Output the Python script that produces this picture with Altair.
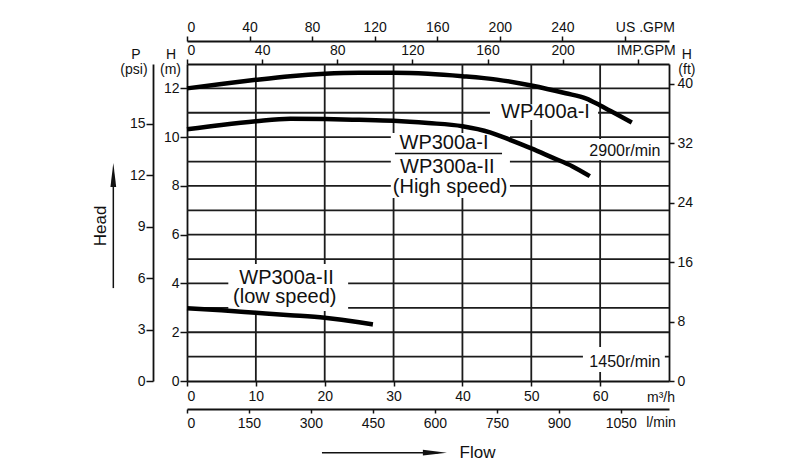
import altair as alt
import pandas as pd

FONT = "Liberation Sans"
INK = "#111111"

# ---- axis ranges (m3/h and m) ----
Q_MAX = 70.0
H_MAX = 13.0
M3H_PER_IMPGPM = 0.2727654
M3H_PER_USGPM = 0.2271247
M_PER_PSI = 0.70307
M_PER_FT = 0.3048

# ---- curve data (flow m3/h, head m) ----
wp400_q = [0, 5, 10, 15, 20, 25, 30, 35, 40, 45, 50, 55, 58, 60, 62, 64.6]
wp400_h = [12.0, 12.18, 12.35, 12.5, 12.6, 12.64, 12.64, 12.6, 12.5, 12.36, 12.12, 11.8, 11.58, 11.3, 11.0, 10.6]
wp300_q = [0, 5, 10, 15, 20, 25, 30, 35, 40, 44, 47, 50, 53, 56, 58.5]
wp300_h = [10.32, 10.5, 10.65, 10.75, 10.74, 10.71, 10.67, 10.58, 10.45, 10.2, 9.88, 9.54, 9.17, 8.8, 8.4]
low_q = [0, 5, 10, 15, 20, 25, 27]
low_h = [2.98, 2.9, 2.8, 2.7, 2.59, 2.41, 2.32]

# ---- grid and ticks ----
h_grid = [1, 2, 3, 4, 5, 6, 7, 8, 9, 10, 11, 12]
q_grid = [10, 20, 30, 40, 50, 60]
m3h_ticks = [0, 10, 20, 30, 40, 50, 60]
hm_ticks = [0, 2, 4, 6, 8, 10, 12]
psi_ticks = [0, 3, 6, 9, 12, 15]
ft_ticks = [0, 8, 16, 24, 32, 40]
lmin_ticks = [0, 150, 300, 450, 600, 750, 900, 1050]
imp_ticks = [0, 40, 80, 120, 160, 200, 240]
us_ticks = [0, 40, 80, 120, 160, 200, 240, 280]

# ---- annotation texts (x in m3/h, y in m at baseline) ----
lab_text = ["WP400a-I", "WP300a-I", "WP300a-II", "(High speed)", "WP300a-II", "(low speed)",
            "2900r/min", "1450r/min", "Flow", "P", "(psi)", "H", "(m)", "H", "(ft)", "m³/h", "l/min"]
lab_x = [52.06, 37.32, 37.8, 38.2, 14.45, 14.2, 63.6, 63.6, 42.2, -7.41, -7.7, -2.32, -2.4, 72.6, 72.6, 68.84, 68.84]
lab_y = [10.77, 9.50, 8.52, 7.72, 3.98, 3.21, 9.23, 0.574, -3.16, 13.19, 12.61, 13.19, 12.61, 13.19, 12.61, -0.85, -1.87]
lab_fs = [20, 20, 20, 20, 20, 20, 16, 16, 17, 14, 14, 14, 14, 14, 14, 14, 14]

# white knock-out boxes behind labels (x0, x1 in m3/h; y0, y1 in m)
box_x0 = [44.0, 29.6, 6.0, 57.8, 57.5]
box_x1 = [59.7, 46.9, 23.4, 69.4, 69.4]
box_y0 = [10.7, 7.5, 2.87, 9.06, 0.37]
box_y1 = [11.35, 10.17, 4.8, 9.92, 1.39]

xs = alt.Scale(domain=[0, Q_MAX], nice=False, zero=False)
ys = alt.Scale(domain=[0, H_MAX], nice=False, zero=False)

curves = pd.DataFrame({
    "q": wp400_q + wp300_q + low_q,
    "h": wp400_h + wp300_h + low_h,
    "s": ["WP400a-I"] * len(wp400_q) + ["WP300a"] * len(wp300_q) + ["low"] * len(low_q),
})

hgrid = alt.Chart(pd.DataFrame({"h": h_grid, "x0": 0.0, "x1": Q_MAX})).mark_rule(
    color="#1c1c1c", strokeWidth=1.8
).encode(
    y=alt.Y("h:Q", scale=ys, axis=None),
    x=alt.X("x0:Q", scale=xs, axis=None),
    x2="x1:Q",
)
vgrid = alt.Chart(pd.DataFrame({"q": q_grid, "y0": 0.0, "y1": H_MAX})).mark_rule(
    color="#1c1c1c", strokeWidth=1.8
).encode(
    x=alt.X("q:Q", scale=xs, axis=None),
    y=alt.Y("y0:Q", scale=ys, axis=None),
    y2="y1:Q",
)
boxes = alt.Chart(pd.DataFrame({"x0": box_x0, "x1": box_x1, "y0": box_y0, "y1": box_y1})).mark_rect(
    color="white"
).encode(
    x=alt.X("x0:Q", scale=xs, axis=None), x2="x1:Q",
    y=alt.Y("y0:Q", scale=ys, axis=None), y2="y1:Q",
)
lines = alt.Chart(curves).mark_line(color="black", strokeWidth=4.5, interpolate="monotone", strokeCap="butt").encode(
    x=alt.X("q:Q", scale=xs, axis=None),
    y=alt.Y("h:Q", scale=ys, axis=None),
    detail="s:N",
)
underline = alt.Chart(pd.DataFrame({"x0": [30.2], "x1": [45.75], "y": [9.33]})).mark_rule(
    color=INK, strokeWidth=1.5
).encode(
    x=alt.X("x0:Q", scale=xs, axis=None), x2="x1:Q",
    y=alt.Y("y:Q", scale=ys, axis=None),
)
texts = alt.Chart(pd.DataFrame({"t": lab_text, "x": lab_x, "y": lab_y, "fs": lab_fs})).mark_text(
    font=FONT, color=INK, align="center", baseline="alphabetic"
).encode(
    x=alt.X("x:Q", scale=xs, axis=None),
    y=alt.Y("y:Q", scale=ys, axis=None),
    text="t:N",
    size=alt.Size("fs:Q", scale=None, legend=None),
)
head_text = alt.Chart(pd.DataFrame({"t": ["Head"], "x": [-12.49], "y": [6.36]})).mark_text(
    font=FONT, color=INK, fontSize=17, angle=270, align="center", baseline="middle"
).encode(
    x=alt.X("x:Q", scale=xs, axis=None),
    y=alt.Y("y:Q", scale=ys, axis=None),
    text="t:N",
)
head_shaft = alt.Chart(pd.DataFrame({"x": [-10.7], "y0": [3.81], "y1": [8.5]})).mark_rule(
    color=INK, strokeWidth=1.5
).encode(
    x=alt.X("x:Q", scale=xs, axis=None),
    y=alt.Y("y0:Q", scale=ys, axis=None), y2="y1:Q",
)
head_tip = alt.Chart(pd.DataFrame({"x": [-10.7], "y": [8.45]})).mark_point(
    shape="M0,-1L0.24,1L-0.24,1Z", filled=True, color=INK, opacity=1, size=576
).encode(
    x=alt.X("x:Q", scale=xs, axis=None),
    y=alt.Y("y:Q", scale=ys, axis=None),
)
flow_shaft = alt.Chart(pd.DataFrame({"x0": [19.6], "x1": [36.5], "y": [-2.94]})).mark_rule(
    color=INK, strokeWidth=1.5
).encode(
    x=alt.X("x0:Q", scale=xs, axis=None), x2="x1:Q",
    y=alt.Y("y:Q", scale=ys, axis=None),
)
flow_tip = alt.Chart(pd.DataFrame({"x": [36.0], "y": [-2.94]})).mark_point(
    shape="M1,0L-1,0.24L-1,-0.24Z", filled=True, color=INK, opacity=1, size=576
).encode(
    x=alt.X("x:Q", scale=xs, axis=None),
    y=alt.Y("y:Q", scale=ys, axis=None),
)

inner = alt.layer(hgrid, vgrid, boxes, lines, underline, texts, head_text, head_shaft, head_tip,
                  flow_shaft, flow_tip)

# main axes (m3/h bottom, H m left)
m3h_axis = alt.Chart(pd.DataFrame({"q": [0.0, Q_MAX]})).mark_point(opacity=0).encode(
    x=alt.X("q:Q", scale=xs, title=None,
            axis=alt.Axis(orient="bottom", values=m3h_ticks, tickSize=5, labelPadding=3, grid=False)),
)
hm_axis = alt.Chart(pd.DataFrame({"h": [0.0, H_MAX]})).mark_point(opacity=0).encode(
    y=alt.Y("h:Q", scale=ys, title=None,
            axis=alt.Axis(orient="left", values=hm_ticks, tickSize=7, labelPadding=1, grid=False)),
)
psi_axis = alt.Chart(pd.DataFrame({"p": [0.0, H_MAX / M_PER_PSI]})).mark_point(opacity=0).encode(
    y=alt.Y("p:Q", scale=alt.Scale(domain=[0, H_MAX / M_PER_PSI], nice=False, zero=False), title=None,
            axis=alt.Axis(orient="left", offset=34, values=psi_ticks, tickSize=7, labelPadding=1, grid=False))
)
ft_axis = alt.Chart(pd.DataFrame({"f": [0.0, H_MAX / M_PER_FT]})).mark_point(opacity=0).encode(
    y=alt.Y("f:Q", scale=alt.Scale(domain=[0, H_MAX / M_PER_FT], nice=False, zero=False), title=None,
            axis=alt.Axis(orient="right", values=ft_ticks, tickSize=5, labelPadding=3, grid=False))
)
lmin_axis = alt.Chart(pd.DataFrame({"l": [0.0, Q_MAX * 1000 / 60]})).mark_point(opacity=0).encode(
    x=alt.X("l:Q", scale=alt.Scale(domain=[0, Q_MAX * 1000 / 60], nice=False, zero=False), title=None,
            axis=alt.Axis(orient="bottom", offset=28, values=lmin_ticks, format="d", tickSize=4,
                          labelPadding=3, grid=False))
)
imp_axis = alt.Chart(pd.DataFrame({"g": [0.0, Q_MAX / M3H_PER_IMPGPM]})).mark_point(opacity=0).encode(
    x=alt.X("g:Q", scale=alt.Scale(domain=[0, Q_MAX / M3H_PER_IMPGPM], nice=False, zero=False), title=None,
            axis=alt.Axis(orient="top", values=imp_ticks, tickSize=5, labelPadding=2, grid=False,
                          labelExpr="datum.value == 240 ? 'IMP.GPM' : datum.label",
                          labelOffset={"condition": {"test": "datum.value == 240", "value": 8}, "value": 0}))
)
us_axis = alt.Chart(pd.DataFrame({"u": [0.0, Q_MAX / M3H_PER_USGPM]})).mark_point(opacity=0).encode(
    x=alt.X("u:Q", scale=alt.Scale(domain=[0, Q_MAX / M3H_PER_USGPM], nice=False, zero=False), title=None,
            axis=alt.Axis(orient="top", offset=23, values=us_ticks, tickSize=5, labelPadding=2, grid=False,
                          labelExpr="datum.value == 280 ? 'US .GPM' : datum.label",
                          labelOffset={"condition": {"test": "datum.value == 280", "value": 20}, "value": 0}))
)

chart = alt.layer(inner, m3h_axis, hm_axis, psi_axis, ft_axis, lmin_axis, imp_axis, us_axis).resolve_scale(
    x="independent", y="independent"
).properties(
    width=482, height=317,
    padding={"left": 179, "top": 56, "right": 123, "bottom": 84},
    autosize=alt.AutoSizeParams(type="none"),
    background="white",
).configure_view(
    stroke=None
).configure_axis(
    labelFont=FONT, labelFontSize=14, labelColor=INK,
    domainColor=INK, domainWidth=1.8, tickColor=INK, tickWidth=1.5,
)

chart.save("out.html", embed_options={"renderer": "svg", "actions": False})
